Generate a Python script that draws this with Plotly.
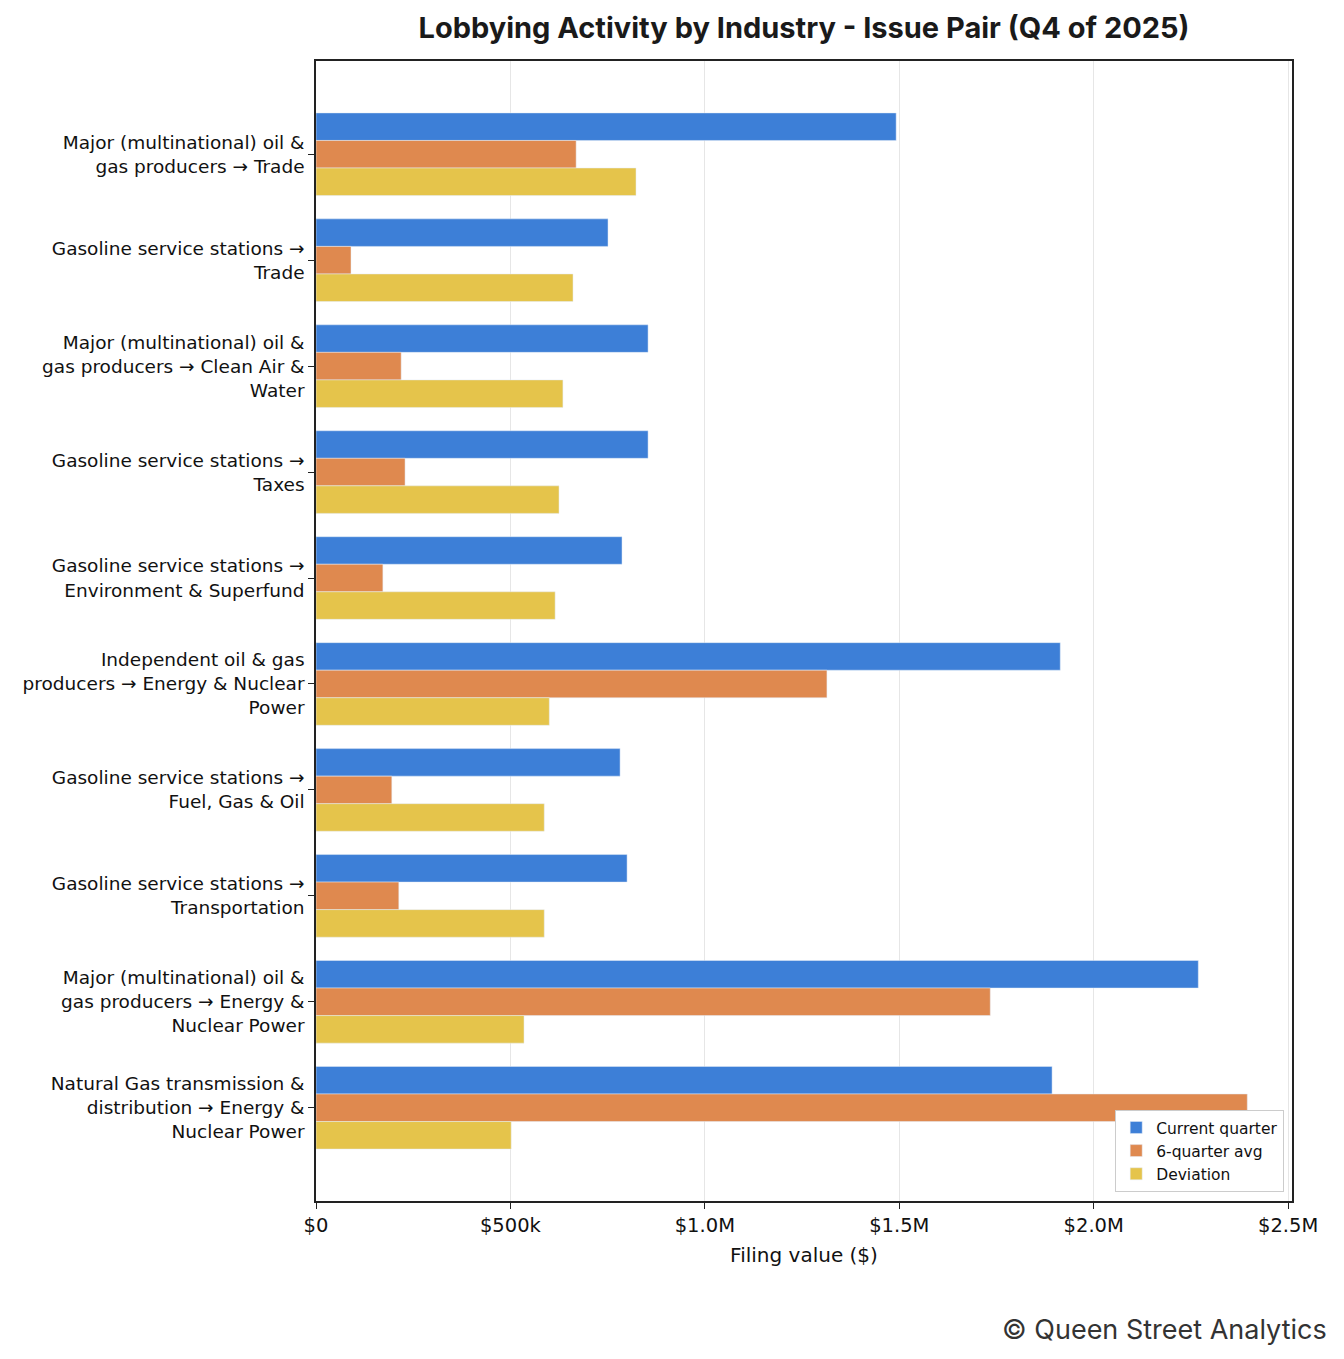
import textwrap
import plotly.graph_objects as go

# industry -> issue pairs, top to bottom
pairs = [
    "Major (multinational) oil & gas producers → Trade",
    "Gasoline service stations → Trade",
    "Major (multinational) oil & gas producers → Clean Air & Water",
    "Gasoline service stations → Taxes",
    "Gasoline service stations → Environment & Superfund",
    "Independent oil & gas producers → Energy & Nuclear Power",
    "Gasoline service stations → Fuel, Gas & Oil",
    "Gasoline service stations → Transportation",
    "Major (multinational) oil & gas producers → Energy & Nuclear Power",
    "Natural Gas transmission & distribution → Energy & Nuclear Power",
]
current_quarter = [1492000, 751000, 854000, 854000, 787000, 1914000, 782000, 800000, 2269000, 1893000]
six_quarter_avg = [669000, 90000, 219000, 229000, 172000, 1314000, 195000, 213000, 1734000, 2395000]
deviation = [823000, 661000, 635000, 625000, 615000, 600000, 587000, 587000, 535000, 502000]

tick_vals = [0, 500000, 1000000, 1500000, 2000000, 2500000]
tick_text = ["$0", "$500k", "$1.0M", "$1.5M", "$2.0M", "$2.5M"]

labels = ["<br>".join(textwrap.wrap(p, 28)) for p in pairs]

fig = go.Figure()
fig.add_trace(go.Bar(y=labels, x=current_quarter, orientation='h',
                     name='Current quarter', marker_color='#3d7fd7'))
fig.add_trace(go.Bar(y=labels, x=six_quarter_avg, orientation='h',
                     name='6-quarter avg', marker_color='#df894f'))
fig.add_trace(go.Bar(y=labels, x=deviation, orientation='h',
                     name='Deviation', marker_color='#e5c44b'))

fig.update_layout(
    width=1344,
    height=1359,
    barmode='group',
    bargap=0.22,
    bargroupgap=0,
    plot_bgcolor='white',
    paper_bgcolor='white',
    margin=dict(l=316, r=52, t=61, b=158),
    font=dict(family='DejaVu Sans', size=18, color='#111'),
    title=dict(
        text='<b>Lobbying Activity by Industry - Issue Pair (Q4 of 2025)</b>',
        x=0.5, xref='paper', xanchor='center',
        y=1 - 28 / 1359, yref='container', yanchor='middle',
        font=dict(family='Inter', size=29, color='#1a1a1a'),
    ),
    xaxis=dict(
        range=[0, 2510000],
        tickvals=tick_vals,
        ticktext=tick_text,
        showgrid=True,
        gridcolor='#e6e6e6',
        gridwidth=1,
        zeroline=False,
        showline=True,
        mirror=True,
        linecolor='#222',
        linewidth=1.5,
        ticks='outside',
        ticklen=6,
        tickcolor='#222',
        tickfont=dict(family='DejaVu Sans', size=19.5, color='#111'),
        title=dict(text='Filing value ($)', standoff=12,
                   font=dict(family='DejaVu Sans', size=20, color='#111')),
    ),
    yaxis=dict(
        range=[9.88, -0.88],
        showgrid=False,
        zeroline=False,
        showline=True,
        mirror=True,
        linecolor='#222',
        linewidth=1.5,
        ticks='outside',
        ticklen=6,
        tickcolor='#222',
        tickfont=dict(family='DejaVu Sans', size=18.5, color='#111'),
    ),
    legend=dict(
        x=0.992, y=0.008, xanchor='right', yanchor='bottom',
        bgcolor='white',
        bordercolor='#cccccc',
        borderwidth=1,
        font=dict(family='DejaVu Sans', size=15.5, color='#111'),
        traceorder='normal',
    ),
)

fig.add_annotation(
    text='© Queen Street Analytics',
    xref='paper', yref='paper',
    x=(1329 - 316) / 976, y=(1201 - 1329) / 1140,
    xanchor='right', yanchor='middle',
    showarrow=False,
    font=dict(family='Inter', size=27, color='#333'),
)

fig.write_html("out.html", config={'displayModeBar': False},
               post_script="document.body.style.margin='0';")
